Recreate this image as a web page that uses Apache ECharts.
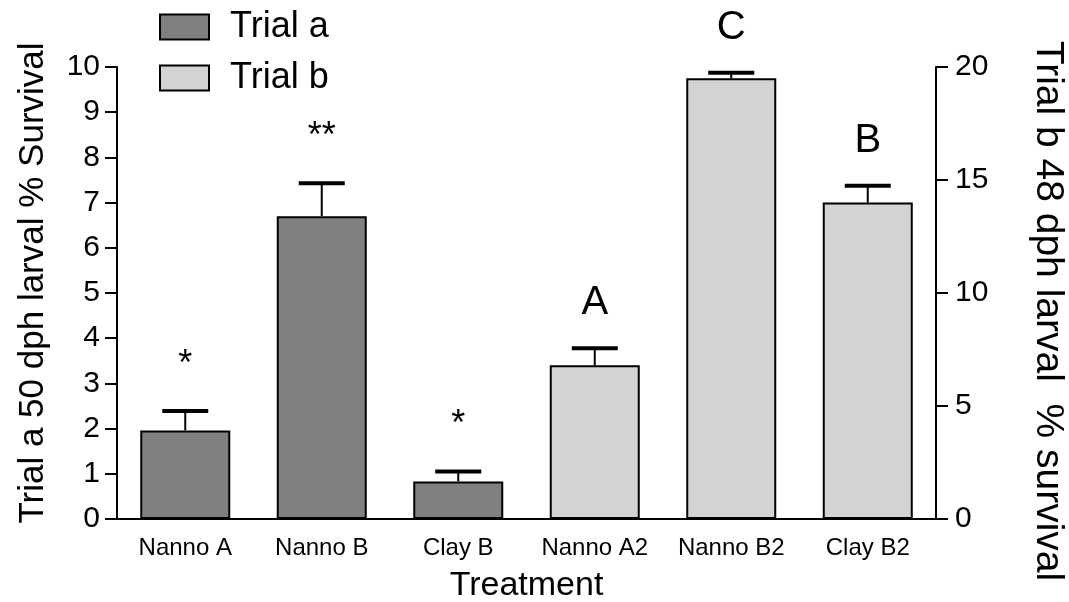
<!DOCTYPE html>
<html><head><meta charset="utf-8">
<script src="https://cdn.jsdelivr.net/npm/echarts@6/dist/echarts.min.js"></script>
<style>html,body{margin:0;padding:0;background:#fff}#c{width:1069px;height:602px}</style>
</head><body><div id="c"></div>
<script>
// ---- data ----
const categories = ['Nanno A', 'Nanno B', 'Clay B', 'Nanno A2', 'Nanno B2', 'Clay B2'];
const trialAMeans = [1.96, 6.70, 0.83, '-', '-', '-'];
const trialAErrTop = [2.39, 7.43, 1.05, '-', '-', '-'];
const trialBMeans = ['-', '-', '-', 6.8, 19.5, 14.0];
const trialBErrTop = ['-', '-', '-', 7.55, 19.75, 14.75];
const annotations = ['*', '**', '*', 'A', 'C', 'B'];
const leftAxis = { min: 0, max: 10, interval: 1 };
const rightAxis = { min: 0, max: 20, interval: 5 };
const seriesNames = ['Trial a', 'Trial b'];
const titles = {
  left: 'Trial a 50 dph larval % Survival',
  right: 'Trial b 48 dph larval  % survival',
  x: 'Treatment'
};

const FONT = '"Liberation Sans", Arial, sans-serif';

function errData(means, tops) {
  const out = [];
  means.forEach((m, i) => {
    if (m !== '-' && tops[i] !== '-') out.push([i, m, tops[i]]);
  });
  return out;
}

function errRender(params, api) {
  const x = api.value(0), m = api.value(1), t = api.value(2);
  const p0 = api.coord([x, m]);
  const p1 = api.coord([x, t]);
  const cap = 23;
  return {
    type: 'group',
    children: [
      { type: 'line', shape: { x1: p0[0], y1: p0[1], x2: p1[0], y2: p1[1] },
        style: { stroke: '#000', lineWidth: 2 } },
      { type: 'line', shape: { x1: p1[0] - cap, y1: p1[1], x2: p1[0] + cap, y2: p1[1] },
        style: { stroke: '#000', lineWidth: 4 } },
      { type: 'text', x: p1[0], y: p1[1] - (x >= 3 ? 45 : 46),
        style: { text: annotations[x], fill: '#000',
          font: (x >= 3 ? '40px ' : '36px ') + FONT,
          textAlign: 'center', textVerticalAlign: 'middle' } }
    ]
  };
}

const chart = echarts.init(document.getElementById('c'), null, { renderer: 'canvas' });
const barStyle = (c) => ({ color: c, borderColor: '#000', borderWidth: 2 });

chart.setOption({
  animation: false,
  backgroundColor: '#fff',
  textStyle: { fontFamily: FONT },
  grid: { left: 117, right: 133, top: 67, bottom: 83, containLabel: false, outerBoundsMode: 'none' },
  legend: {
    orient: 'vertical', left: 154, top: 4,
    itemWidth: 49, itemHeight: 25, itemGap: 15,
    icon: 'rect',
    data: seriesNames,
    itemStyle: { borderColor: '#000', borderWidth: 2 },
    textStyle: { fontSize: 36, color: '#000', fontFamily: FONT, padding: [0, 0, 0, 16] }
  },
  xAxis: {
    type: 'category', data: categories,
    axisLine: { lineStyle: { color: '#000', width: 2 } },
    axisTick: { show: false },
    axisLabel: { fontSize: 24, color: '#000', margin: 17, interval: 0, fontFamily: FONT },
    name: titles.x, nameLocation: 'middle', nameGap: 50,
    nameTextStyle: { fontSize: 34, color: '#000', fontFamily: FONT }
  },
  yAxis: [
    {
      type: 'value', position: 'left', min: leftAxis.min, max: leftAxis.max, interval: leftAxis.interval,
      axisLine: { show: true, lineStyle: { color: '#000', width: 2 } },
      axisTick: { show: true, length: 12, lineStyle: { color: '#000', width: 2 } },
      axisLabel: { fontSize: 30, color: '#000', margin: 17, fontFamily: FONT },
      splitLine: { show: false }
    },
    {
      type: 'value', position: 'right', min: rightAxis.min, max: rightAxis.max, interval: rightAxis.interval,
      axisLine: { show: true, lineStyle: { color: '#000', width: 2 } },
      axisTick: { show: true, length: 12, lineStyle: { color: '#000', width: 2 } },
      axisLabel: { fontSize: 30, color: '#000', margin: 19, fontFamily: FONT },
      splitLine: { show: false }
    }
  ],
  series: [
    { name: seriesNames[0], type: 'bar', yAxisIndex: 0, data: trialAMeans,
      barWidth: 90, barGap: '-100%', itemStyle: barStyle('#808080') },
    { name: seriesNames[1], type: 'bar', yAxisIndex: 1, data: trialBMeans,
      barWidth: 90, barGap: '-100%', itemStyle: barStyle('#d3d3d3') },
    { type: 'custom', yAxisIndex: 0, data: errData(trialAMeans, trialAErrTop),
      renderItem: errRender, z: 5 },
    { type: 'custom', yAxisIndex: 1, data: errData(trialBMeans, trialBErrTop),
      renderItem: errRender, z: 5 }
  ],
  graphic: [
    { type: 'text', x: 33, y: 283, rotation: Math.PI / 2,
      style: { text: titles.left, font: '35px ' + FONT, fill: '#000',
        textAlign: 'center', textVerticalAlign: 'middle' } },
    { type: 'text', x: 1048, y: 311, rotation: -Math.PI / 2,
      style: { text: titles.right, font: '39px ' + FONT, fill: '#000',
        textAlign: 'center', textVerticalAlign: 'middle' } }
  ]
});
</script>
</body></html>
